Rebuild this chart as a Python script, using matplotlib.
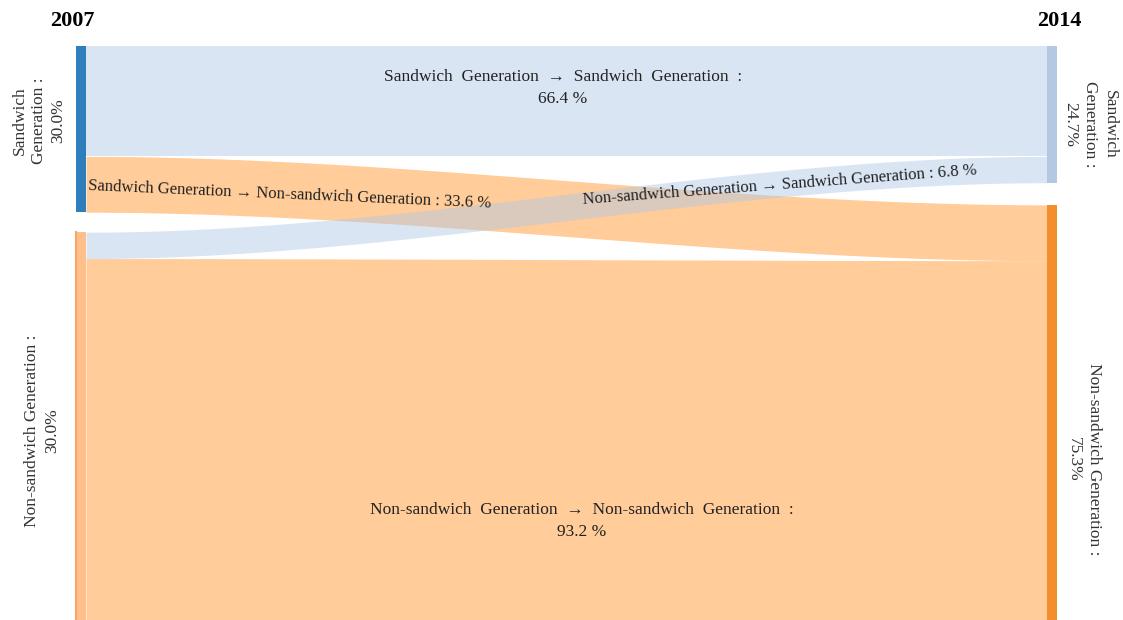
import numpy as np
import matplotlib.pyplot as plt
from matplotlib.patches import Rectangle

plt.rcParams['font.family'] = ['Liberation Serif', 'DejaVu Serif']

# data
years = ["2007", "2014"]
groups = ["Sandwich Generation", "Non-sandwich Generation"]
share_2007 = [30.0, 70.0]
share_2014 = [24.7, 75.3]
label_2007 = ["30.0%", "30.0%"]   # as printed in the source
label_2014 = ["24.7%", "75.3%"]
# row = 2007 group, col = 2014 group, % of the 2007 group
transition = [[66.4, 33.6],
              [6.8, 93.2]]

# layout (pixel space)
W, H = 1123, 620
top = 46
px_per_pct = 5.54
gap_left, gap_right = 20, 22
left_bar = (76, 86)
right_bar = (1047, 1057)

node_col_left = ["#2f7ebc", "#fdc08a"]
node_col_right = ["#b4c8e4", "#f28e2b"]
flow_col = ["#aec7e8", "#ffbb78"]
flow_alpha = [0.45, 0.75]

fig = plt.figure(figsize=(W / 100, H / 100), dpi=100)
ax = fig.add_axes([0, 0, 1, 1])
ax.set_xlim(0, W)
ax.set_ylim(H, 0)
ax.axis("off")

# node positions
def node_spans(shares, gap):
    spans, y = [], top
    for s in shares:
        h = s * px_per_pct
        spans.append((y, y + h))
        y += h + gap
    return spans

L = node_spans(share_2007, gap_left)
R = node_spans(share_2014, gap_right)

# flow widths (pixels)
flows = np.array([[share_2007[i] * transition[i][j] / 100 for j in range(2)] for i in range(2)]) * px_per_pct

# stacking of flow ends at each node
left_pos = {}
for i in range(2):
    y = L[i][0]
    for j in range(2):
        left_pos[(i, j)] = (y, y + flows[i, j])
        y += flows[i, j]
right_pos = {}
for j in range(2):
    y = R[j][0]
    for i in range(2):
        right_pos[(i, j)] = (y, y + flows[i, j])
        y += flows[i, j]

x0, x1 = left_bar[1], right_bar[0]
t = np.linspace(0, 1, 200)
s = 3 * t ** 2 - 2 * t ** 3
xs = x0 + (x1 - x0) * t

for (i, j) in [(1, 1), (0, 0), (0, 1), (1, 0)]:
    a0, a1 = left_pos[(i, j)]
    b0, b1 = right_pos[(i, j)]
    ytop = a0 + (b0 - a0) * s
    ybot = a1 + (b1 - a1) * s
    ax.fill_between(xs, ytop, ybot, color=flow_col[j], alpha=flow_alpha[j], lw=0)

# node bars
for i in range(2):
    ax.add_patch(Rectangle((left_bar[0], L[i][0]), left_bar[1] - left_bar[0],
                           L[i][1] - L[i][0], color=node_col_left[i], lw=0))
    ax.add_patch(Rectangle((right_bar[0], R[i][0]), right_bar[1] - right_bar[0],
                           R[i][1] - R[i][0], color=node_col_right[i], lw=0))
ax.plot([left_bar[0], left_bar[0]], [L[1][0], L[1][1]], color="#f5a864", lw=1.5)

# year headers
ax.text(50, 21, years[0], fontsize=16, fontweight="bold", ha="left", va="center")
ax.text(1082, 21, years[1], fontsize=16, fontweight="bold", ha="right", va="center")

# node labels
fs = 12.5
lab = dict(ha="center", va="center", multialignment="center", fontsize=fs,
           color="#333333", linespacing=1.3)
ax.text(39, (L[0][0] + L[0][1]) / 2 - 8, "Sandwich\nGeneration :\n" + label_2007[0],
        rotation=90, **lab)
ax.text(42, (L[1][0] + L[1][1]) / 2 + 5, groups[1] + " :\n" + label_2007[1],
        rotation=90, **lab)
ax.text(1090, (R[0][0] + R[0][1]) / 2 + 10, "Sandwich\nGeneration :\n" + label_2014[0],
        rotation=-90, **lab)
ax.text(1084, (R[1][0] + R[1][1]) / 2 + 46, groups[1] + " :\n" + label_2014[1],
        rotation=-90, **lab)

# flow labels
arrow = " \u2192 "
wide = lambda txt: txt.replace(" ", "  ")
ax.text(563, 88, wide(groups[0] + arrow + groups[0] + " :") + "\n" + f"{transition[0][0]} %",
        ha="center", va="center", multialignment="center", fontsize=fs,
        color="#222222", linespacing=1.55)
ax.text(88, 186, groups[0] + arrow + groups[1] + " : " + f"{transition[0][1]} %",
        ha="left", va="center", rotation=-2.5, rotation_mode="anchor", fontsize=fs - 0.5, color="#222222")
ax.text(780, 185, groups[1] + arrow + groups[0] + " : " + f"{transition[1][0]} %",
        ha="center", va="center", rotation=4.3, rotation_mode="anchor", fontsize=fs - 0.5, color="#222222")
ax.text(582, 521, wide(groups[1] + arrow + groups[1] + " :") + "\n" + f"{transition[1][1]} %",
        ha="center", va="center", multialignment="center", fontsize=fs,
        color="#222222", linespacing=1.55)

fig.savefig("out.png", dpi=100)
